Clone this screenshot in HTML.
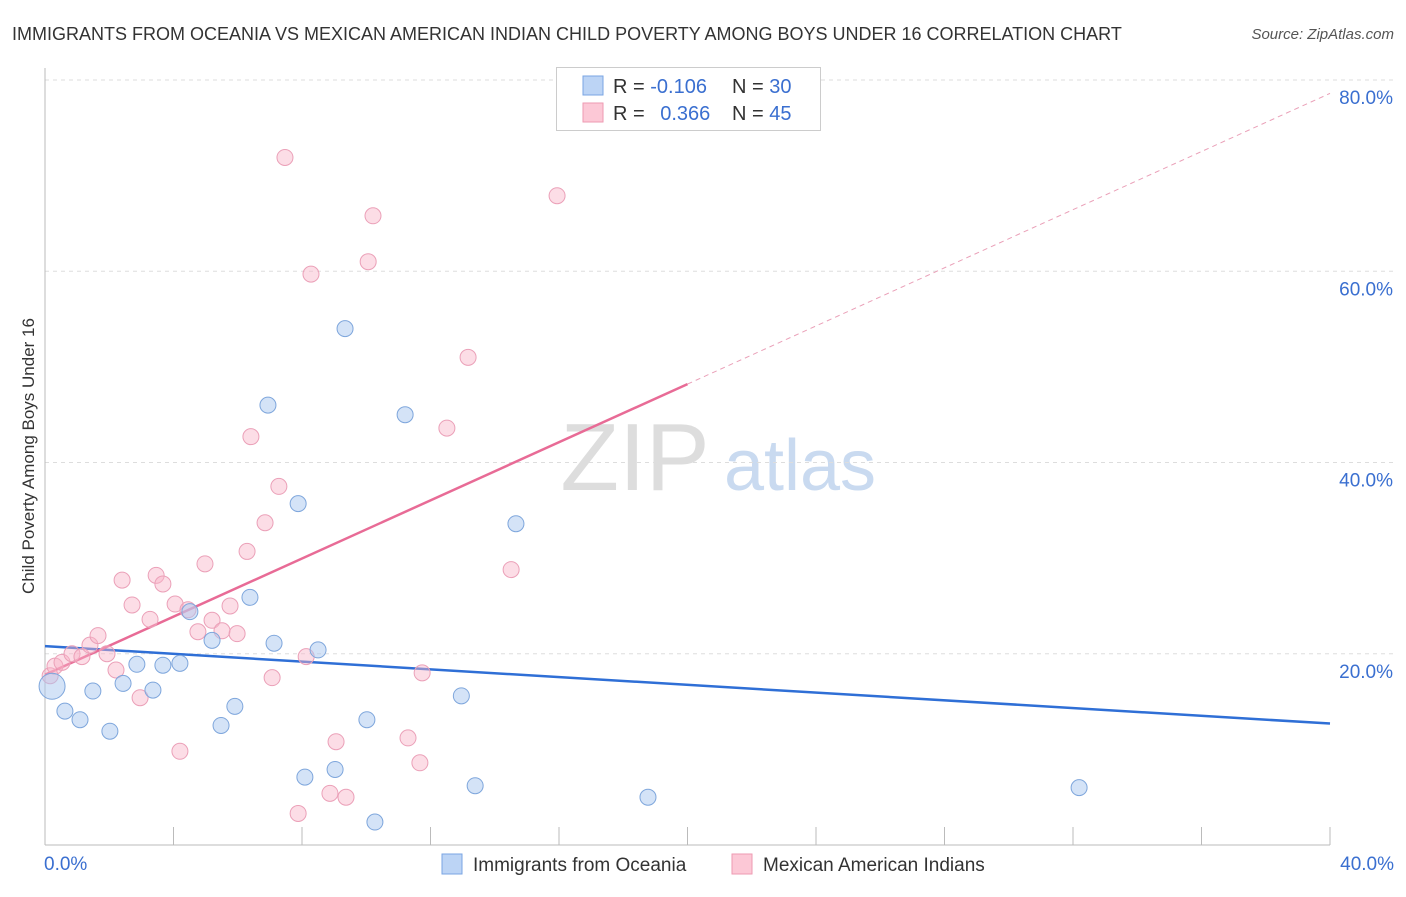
<!DOCTYPE html>
<html><head><meta charset="utf-8"><style>
body{margin:0;background:#fff;font-family:"Liberation Sans",sans-serif}
svg text{font-family:"Liberation Sans",sans-serif}
</style></head><body>
<svg id="c" width="1406" height="892">
<text x="12" y="40" font-size="18" fill="#333">IMMIGRANTS FROM OCEANIA VS MEXICAN AMERICAN INDIAN CHILD POVERTY AMONG BOYS UNDER 16 CORRELATION CHART</text>
<text x="1394" y="39" font-size="15" fill="#555" font-style="italic" text-anchor="end">Source: ZipAtlas.com</text>
<text transform="translate(34,456) rotate(-90)" font-size="17" fill="#333" text-anchor="middle">Child Poverty Among Boys Under 16</text>
<g><text x="635" y="490" font-size="96" font-family="Liberation Serif" fill="#ddd" text-anchor="middle">ZIP</text><text x="800" y="490" font-size="72" fill="#c9daf0" text-anchor="middle">atlas</text></g>
<g id="grid"></g><g id="axes"></g><g id="lines"></g><g id="pts"></g>
<g>
<rect x="556.5" y="67.5" width="264" height="63" fill="#fff" stroke="#ccc"/>
<rect x="583" y="76" width="20" height="19" fill="#bcd4f5" stroke="#7aa5e3"/>
<rect x="583" y="103" width="20" height="19" fill="#fcc8d6" stroke="#ee9ab2"/>
<text x="613" y="93" font-size="20" fill="#333">R = <tspan fill="#3a6fd0">-0.106</tspan></text>
<text x="732" y="93" font-size="20" fill="#333">N = <tspan fill="#3a6fd0">30</tspan></text>
<text x="613" y="120" font-size="20" fill="#333">R = <tspan fill="#3a6fd0" dx="10">0.366</tspan></text>
<text x="732" y="120" font-size="20" fill="#333">N = <tspan fill="#3a6fd0">45</tspan></text>
</g>
<g>
<rect x="442" y="854" width="20" height="20" fill="#bcd4f5" stroke="#7aa5e3"/>
<text x="473" y="871" font-size="19" fill="#333">Immigrants from Oceania</text>
<rect x="732" y="854" width="20" height="20" fill="#fcc8d6" stroke="#ee9ab2"/>
<text x="763" y="871" font-size="19" fill="#333">Mexican American Indians</text>
</g>
</svg>
<script>
const blueX=[0.22,0.62,1.09,1.49,2.02,2.43,2.86,3.36,3.67,4.20,4.51,5.20,5.48,5.91,6.38,6.94,7.13,7.88,8.09,8.50,9.03,9.34,10.02,10.27,11.21,12.96,13.39,14.66,18.77,32.19];
const blueY=[16.6,14.0,13.1,16.1,11.9,16.9,18.9,16.2,18.8,19.0,24.4,21.4,12.5,14.5,25.9,46.0,21.1,35.7,7.1,20.4,7.9,54.0,13.1,2.4,45.0,15.6,6.2,33.6,5.0,6.0];
const pinkX=[0.16,0.31,0.53,0.84,1.15,1.40,1.65,1.93,2.21,2.40,2.71,2.96,3.27,3.46,3.67,4.05,4.20,4.45,4.76,4.98,5.20,5.51,5.76,5.98,6.29,6.41,6.85,7.07,7.28,7.47,7.88,8.13,8.28,8.87,9.06,9.37,10.06,10.21,11.30,11.67,11.74,12.51,13.17,14.51,15.94];
const pinkY=[17.7,18.7,19.1,20.0,19.7,20.9,21.9,20.0,18.3,27.7,25.1,15.4,23.6,28.2,27.3,25.2,9.8,24.6,22.3,29.4,23.5,22.4,25.0,22.1,30.7,42.7,33.7,17.5,37.5,71.9,3.3,19.7,59.7,5.4,10.8,5.0,61.0,65.8,11.2,8.6,18.0,43.6,51.0,28.8,67.9];
const blueTrend=[20.8,12.7];   // y at x=0 and x=40
const pinkTrend=[17.8,78.6];   // y at x=0 and x=40
const pinkSolidEnd=20;
const yTicks=[20,40,60,80];
const yTickLabels=["20.0%","40.0%","60.0%","80.0%"];
const xTicks=[0,4,8,12,16,20,24,28,32,36,40];
const NS="http://www.w3.org/2000/svg";
const sx=v=>45+v*32.125, sy=v=>845-v*9.5625;
function mk(t,a,p){const e=document.createElementNS(NS,t);for(const k in a)e.setAttribute(k,a[k]);p.appendChild(e);return e;}
const grid=document.getElementById('grid'),axes=document.getElementById('axes'),lines=document.getElementById('lines'),pts=document.getElementById('pts');
yTicks.forEach((t,i)=>{
 const l=mk('line',{x1:45,x2:1394,y1:sy(t),y2:sy(t),stroke:'#ddd','stroke-dasharray':'4,4'},grid);
 
 
 const tx=mk('text',{x:1393,y:sy(t)+24,'font-size':19,fill:'#3a6fd0','text-anchor':'end'},axes);
 tx.textContent=yTickLabels[i];
 
 
});
const ya=mk('line',{x1:45,x2:45,y1:68,y2:845,stroke:'#bbb'},axes);


const xa=mk('line',{x1:45,x2:1330,y1:845,y2:845,stroke:'#bbb'},axes);


xTicks.forEach(t=>{const l=mk('line',{x1:sx(t),x2:sx(t),y1:827,y2:845,stroke:'#bbb'},axes);
 
 });
[[0,"0.0%","start",44],[40,"40.0%","end",1394]].forEach(d=>{const tx=mk('text',{x:d[3],y:870,'font-size':19,fill:'#3a6fd0','text-anchor':d[2]},axes);tx.textContent=d[1];
 
 });
const pAt=x=>pinkTrend[0]+(pinkTrend[1]-pinkTrend[0])*x/40;
let l1=mk('line',{x1:sx(0),y1:sy(blueTrend[0]),x2:sx(40),y2:sy(blueTrend[1]),stroke:'#2f6fd6','stroke-width':2.5},lines);


let l2=mk('line',{x1:sx(0),y1:sy(pAt(0)),x2:sx(pinkSolidEnd),y2:sy(pAt(pinkSolidEnd)),stroke:'#e86b96','stroke-width':2.5},lines);


let l3=mk('line',{x1:sx(pinkSolidEnd),y1:sy(pAt(pinkSolidEnd)),x2:sx(40),y2:sy(pAt(40)),stroke:'#eaa0b8','stroke-width':1,'stroke-dasharray':'5,4'},lines);


pinkX.forEach((x,i)=>{const c=mk('circle',{cx:sx(x),cy:sy(pinkY[i]),r:8,fill:'rgba(248,180,200,0.45)',stroke:'#eba0b8','stroke-width':1},pts);
 
 });
blueX.forEach((x,i)=>{const c=mk('circle',{cx:sx(x),cy:sy(blueY[i]),r:i==0?13:8,fill:'rgba(170,200,240,0.5)',stroke:'#7ea6dc','stroke-width':1},pts);
 
 });
</script>
</body></html>
